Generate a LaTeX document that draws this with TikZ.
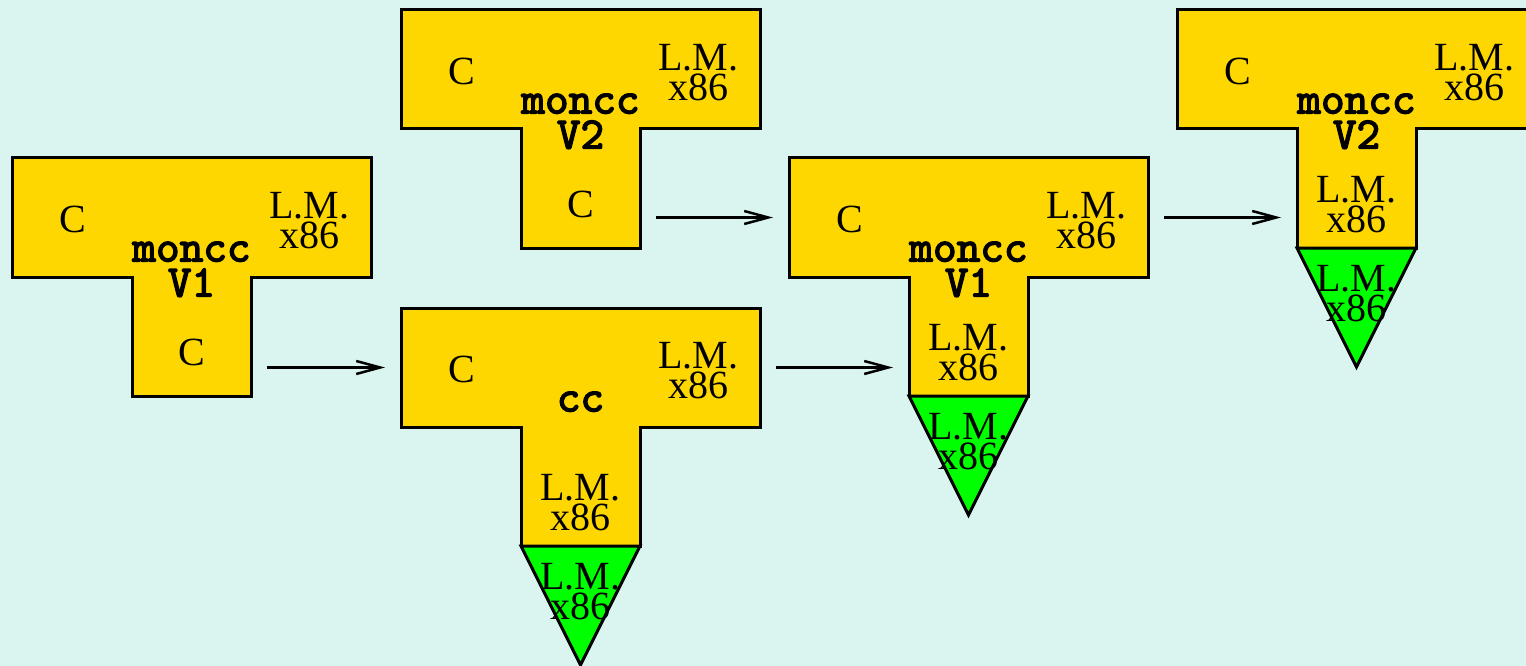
\documentclass[tikz,border=0pt]{standalone}
\usepackage{fontspec}
\setmainfont{Liberation Serif}
\newfontfamily\progfont{lmmono10-regular.otf}[FakeBold=3]
\usetikzlibrary{positioning,calc,arrows.meta}
\definecolor{bgcyan}{RGB}{218,245,240}
\definecolor{tgold}{RGB}{255,215,0}
\definecolor{mgreen}{RGB}{0,255,0}
\tikzset{
    tshape/.style={draw=black, fill=tgold, line width=3pt, line join=miter},
    machine/.style={draw=black, fill=mgreen, line width=3pt, line join=miter},
    part/.style={inner sep=0pt, outer sep=0pt, minimum height=119pt},
    lang/.style={font=\fontsize{40}{30}\selectfont, align=center, inner sep=0pt},
    prog/.style={font=\fontsize{45}{35}\selectfont\progfont, align=center, inner sep=0pt},
    arrow/.style={-{Straight Barb[length=24pt,width=13pt]}, line width=2.5pt, shorten <=16pt, shorten >=16pt}
}

% T diagram: name, top left corner, source, program, target, implementation
\newcommand{\tdiagram}[6]{
    \node (#1-bar) [part, minimum width=359pt, anchor=north west] at (#2) {};
    \node (#1-stem) [part, minimum width=119pt, anchor=north] at (#1-bar.south) {};
    \draw[tshape] (#1-bar.north west) -- (#1-bar.north east) -- (#1-bar.south east)
        -- (#1-stem.north east) -- (#1-stem.south east) -- (#1-stem.south west)
        -- (#1-stem.north west) -- (#1-bar.south west) -- cycle;
    \node (#1-src) [lang] at ([shift={(-119,2)}]#1-bar.center) {#3};
    \node (#1-tgt) [lang] at ([shift={(118,3)}]#1-bar.center) {#5};
    \node (#1-name) [prog, anchor=north] at ([shift={(0,24)}]#1-bar.center) {#4};
    \node (#1-impl) [lang] at ([shift={(0,16)}]#1-stem.center) {#6};
}

% machine under a T diagram: name, machine
\newcommand{\machine}[2]{
    \coordinate (#1-apex) at ([shift={(0,119)}]#1-stem.south);
    \draw[machine] (#1-stem.south west) -- (#1-stem.south east) -- (#1-apex) -- cycle;
    \node (#1-mach) [lang] at ([shift={(0,46)}]#1-stem.south) {#2};
}

\begin{document}
\begin{tikzpicture}[x=1pt, y=-1pt]
    \useasboundingbox (0,0) rectangle (1526,666);
    \fill[bgcyan] (0,0) rectangle (1526,666);
    \clip (0,0) rectangle (1526,666);

    % Sources
    \tdiagram{src1}{12,158}{C}{moncc\\V1}{L.M.\\x86}{C}
    \tdiagram{src2}{401,10}{C}{moncc\\V2}{L.M.\\x86}{C}

    % Compilers on the machine
    \tdiagram{cc}{401,308}{C}{cc}{L.M.\\x86}{L.M.\\x86}
    \machine{cc}{L.M.\\x86}
    \tdiagram{bin1}{789,158}{C}{moncc\\V1}{L.M.\\x86}{L.M.\\x86}
    \machine{bin1}{L.M.\\x86}
    \tdiagram{bin2}{1177,10}{C}{moncc\\V2}{L.M.\\x86}{L.M.\\x86}
    \machine{bin2}{L.M.\\x86}

    % Compilation steps
    \draw[arrow] (src1-stem.east |- cc-bar.west) -- (cc-bar.west);
    \draw[arrow] (cc-bar.east) -- (cc-bar.east -| bin1-stem.west);
    \draw[arrow] (src2-stem.east |- bin1-bar.west) -- (bin1-bar.west);
    \draw[arrow] (bin1-bar.east) -- (bin1-bar.east -| bin2-stem.west);
\end{tikzpicture}
\end{document}
